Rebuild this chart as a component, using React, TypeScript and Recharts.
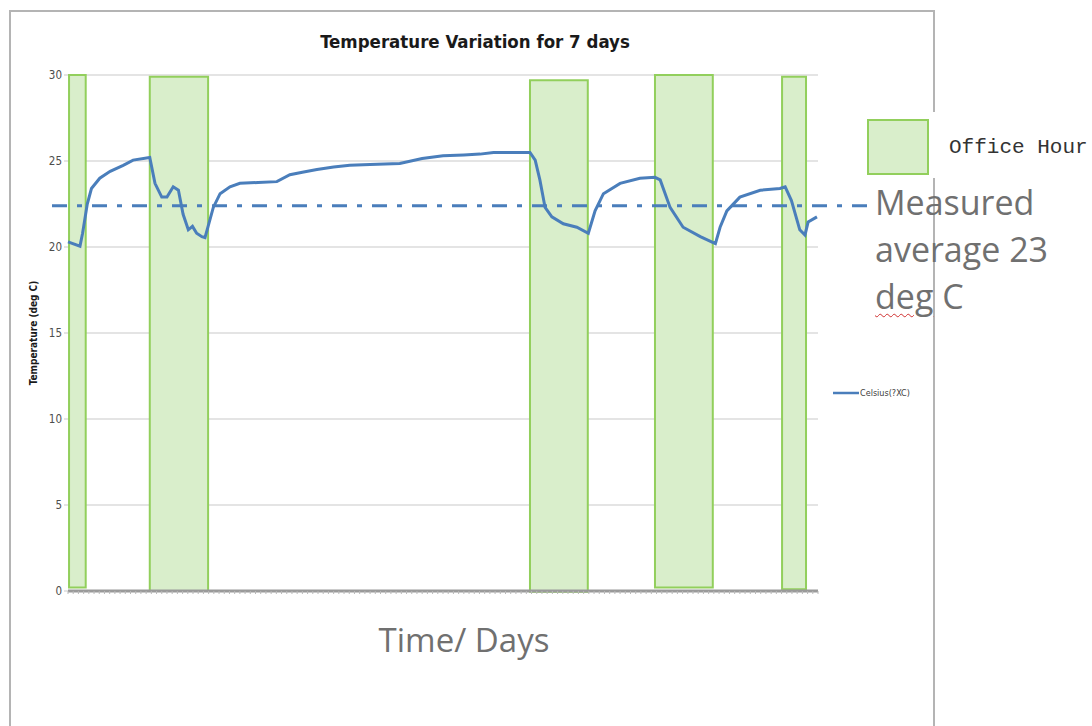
import React from 'react'
import {
  LineChart,
  Line,
  XAxis,
  YAxis,
  CartesianGrid,
  ReferenceArea,
  ReferenceLine,
  Legend,
} from 'recharts'

// time in hours since start of logging, temperature in deg C
const hours = [
  0, 2.3, 2.8, 3.7, 4.5, 6.1, 8.1, 10.6, 12.5, 15.7, 16.7, 18.0, 19.0, 20.2, 21.2, 22.1, 23.1,
  23.9, 24.7, 25.7, 26.3, 26.9, 27.9, 29.2, 31.1, 33.0, 36.5, 40.1, 42.6, 45, 47.8, 51, 54.1, 58,
  63.7, 68, 72, 76, 79.1, 81.7, 85, 88.7, 89.7, 90.6, 91.6, 92.9, 95.1, 97.7, 99.9, 101.2, 102.8,
  106.0, 109.8, 112.7, 113.7, 115.6, 118.1, 121.4, 124.3, 125.2, 126.5, 129.0, 132.9, 136.7,
  137.7, 138.9, 140.5, 141.5, 142.1, 143.8,
]
const celsius = [
  20.3, 20.05, 20.8, 22.5, 23.4, 24.0, 24.4, 24.75, 25.05, 25.2, 23.7, 22.9, 22.9, 23.5, 23.3,
  21.9, 21.0, 21.2, 20.8, 20.6, 20.55, 21.2, 22.3, 23.1, 23.5, 23.7, 23.75, 23.8, 24.2, 24.35,
  24.5, 24.65, 24.75, 24.8, 24.85, 25.15, 25.3, 25.35, 25.4, 25.5, 25.5, 25.5, 25.05, 23.9, 22.3,
  21.75, 21.35, 21.15, 20.8, 22.1, 23.1, 23.7, 24.0, 24.05, 23.9, 22.3, 21.15, 20.6, 20.2, 21.15,
  22.1, 22.9, 23.3, 23.4, 23.5, 22.7, 21.0, 20.7, 21.45, 21.75,
]

// office hour blocks
const officeStart = [0.2, 15.7, 88.7, 112.7, 137.1]
const officeEnd = [3.4, 26.9, 99.8, 123.8, 141.7]
const officeTop = [30, 29.9, 29.7, 30, 29.9]
const officeBottom = [0.2, 0, -0.05, 0.2, 0.1]

const yTicks = [0, 5, 10, 15, 20, 25, 30]
const measuredAverage = 22.4
const xTicks = Array.from({ length: 145 }, (_, i) => i)

const data = hours.map((h, i) => ({ hour: h, celsius: celsius[i] }))

const BLUE = '#4a7ebb'
const GREEN_STROKE = '#92cf5c'
const GREEN_FILL = '#d9eecb'
const CONDENSED = "'DejaVu Sans Condensed', 'DejaVu Sans', sans-serif"

function LegendContent() {
  return (
    <div style={{ display: 'flex', alignItems: 'center', fontFamily: CONDENSED, fontSize: 9, color: '#404040' }}>
      <svg width={26} height={6}>
        <line x1={0} y1={3} x2={26} y2={3} stroke={BLUE} strokeWidth={2.5} />
      </svg>
      <span style={{ marginLeft: 1, fontStretch: 'condensed' }}>Celsius(?XC)</span>
    </div>
  )
}

export default function App() {
  return (
    <div style={{ position: 'absolute', left: 0, top: 0, width: 1092, height: 726, background: '#fff', overflow: 'hidden' }}>
      <div
        style={{
          position: 'absolute',
          left: 9,
          top: 10,
          width: 922,
          height: 760,
          borderLeft: '2px solid #b4b4b4',
          borderTop: '2px solid #b4b4b4',
          borderRight: '2px solid #b4b4b4',
        }}
      />
      <div
        style={{
          position: 'absolute',
          left: 0,
          width: 934,
          top: 31,
          textAlign: 'center',
          paddingLeft: 8,
          fontFamily: CONDENSED,
          fontStretch: 'condensed',
          fontWeight: 'bold',
          fontSize: 18.5,
          color: '#1a1a1a',
        }}
      >
        Temperature Variation for 7 days
      </div>
      <div
        style={{
          position: 'absolute',
          left: 33,
          top: 333,
          transform: 'translate(-50%, -50%) rotate(-90deg)',
          whiteSpace: 'nowrap',
          fontFamily: CONDENSED,
          fontStretch: 'condensed',
          fontWeight: 'bold',
          fontSize: 10,
          color: '#1a1a1a',
        }}
      >
        Temperature (deg C)
      </div>
      <div style={{ position: 'absolute', left: 0, top: 0 }}>
        <LineChart width={934} height={726} data={data} margin={{ top: 75, right: 116, left: 38, bottom: 125 }}>
          <CartesianGrid horizontal vertical={false} stroke="#c9c9c9" />
          <XAxis
            dataKey="hour"
            type="number"
            domain={[0, 144]}
            ticks={xTicks}
            interval={0}
            tickFormatter={() => ''}
            height={10}
            axisLine={{ stroke: '#9a9a9a', strokeWidth: 3 }}
            tickLine={{ stroke: '#b8b8b8' }}
            tickSize={3}
          />
          <YAxis
            type="number"
            domain={[0, 30]}
            ticks={yTicks}
            width={30}
            axisLine={false}
            tickLine={{ stroke: '#c9c9c9' }}
            tickSize={4}
            tick={{ fill: '#4d4d4d', fontSize: 11.5, fontFamily: CONDENSED }}
          />
          {officeStart.map((s, i) => (
            <ReferenceArea
              key={i}
              x1={s}
              x2={officeEnd[i]}
              y1={officeBottom[i]}
              y2={officeTop[i]}
              fill={GREEN_FILL}
              fillOpacity={1}
              stroke={GREEN_STROKE}
              strokeWidth={2}
              ifOverflow="visible"
            />
          ))}
          <Line
            type="linear"
            dataKey="celsius"
            stroke={BLUE}
            strokeWidth={3}
            dot={false}
            isAnimationActive={false}
          />
          <ReferenceLine
            y={measuredAverage}
            shape={(p: any) => (
              <line
                x1={p.x1 - 16}
                y1={p.y1}
                x2={p.x2 + 52}
                y2={p.y2}
                stroke={BLUE}
                strokeWidth={3}
                strokeDasharray="15 10 5 10"
              />
            )}
          />
          <Legend
            layout="horizontal"
            verticalAlign="middle"
            align="center"
            content={<LegendContent />}
            wrapperStyle={{ left: 833, top: 388, width: 'auto', bottom: 'auto', right: 'auto' }}
          />
        </LineChart>
      </div>
      <div
        style={{
          position: 'absolute',
          left: 464,
          top: 617,
          transform: 'translateX(-50%)',
          whiteSpace: 'nowrap',
          fontFamily: "'Open Sans', sans-serif",
          fontSize: 33,
          color: '#707070',
        }}
      >
        Time/ Days
      </div>
      <div
        style={{
          position: 'absolute',
          left: 866,
          top: 112,
          width: 226,
          height: 66,
          background: '#fff',
        }}
      />
      <div
        style={{
          position: 'absolute',
          left: 867,
          top: 119,
          width: 62,
          height: 56,
          background: GREEN_FILL,
          border: `2px solid ${GREEN_STROKE}`,
          boxSizing: 'border-box',
        }}
      />
      <div
        style={{
          position: 'absolute',
          left: 949,
          top: 136,
          fontFamily: "'Liberation Mono', monospace",
          fontSize: 21,
          color: '#333',
          whiteSpace: 'nowrap',
        }}
      >
        Office Hour
      </div>
      <div
        style={{
          position: 'absolute',
          left: 875,
          top: 179,
          fontFamily: "'Open Sans', sans-serif",
          fontSize: 34,
          lineHeight: '47px',
          color: '#707070',
          whiteSpace: 'nowrap',
        }}
      >
        Measured
        <br />
        average 23
        <br />
        <span style={{ textDecoration: 'underline wavy #d03030', textDecorationThickness: 1, textUnderlineOffset: 4 }}>deg</span> C
      </div>
    </div>
  )
}
